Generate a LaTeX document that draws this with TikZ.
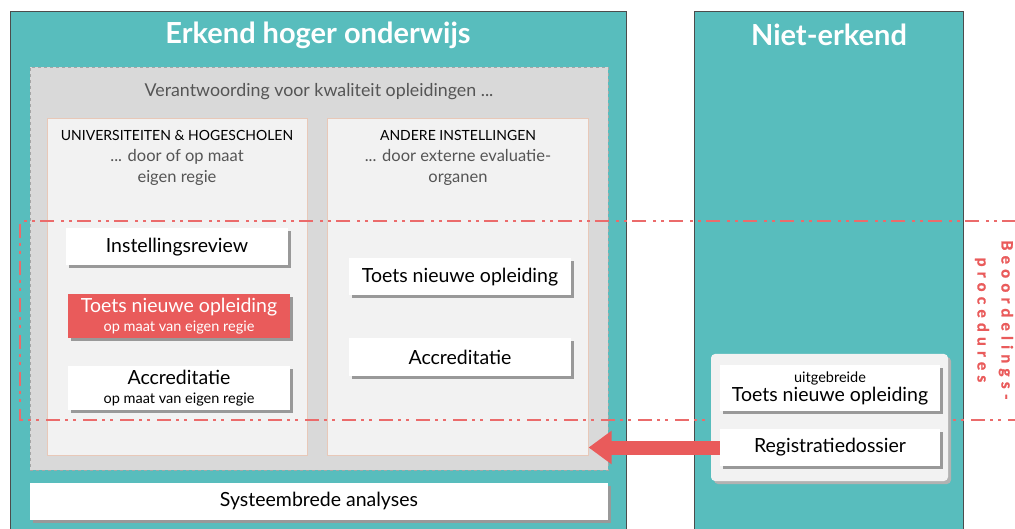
\documentclass[tikz,border=0pt]{standalone}
\usepackage{fontspec}
\setmainfont{Lato}
\newfontfamily\spacedfont[LetterSpace=34, FakeBold=1.6]{Lato Bold}
\usetikzlibrary{shadows,arrows.meta}

\definecolor{tealbg}{RGB}{88,189,189}
\definecolor{kadergrijs}{RGB}{217,217,217}
\definecolor{vakgrijs}{RGB}{242,242,242}
\definecolor{vakrand}{RGB}{232,200,184}
\definecolor{rood}{RGB}{233,91,91}
\definecolor{tekstgrijs}{RGB}{85,85,85}

\newcommand{\kleintekst}{\fontsize{14.5}{16}\selectfont}

\tikzset{
  paneel/.style={draw=black!70, fill=tealbg, line width=0.6pt},
  titel/.style={text=white, font=\fontsize{29}{32}\selectfont\bfseries},
  vak/.style={draw=vakrand, fill=vakgrijs, line width=0.6pt},
  kaart/.style={fill=white, minimum width=222pt, minimum height=37pt, inner sep=0pt,
    align=center, font=\fontsize{19.5}{22}\selectfont,
    drop shadow={shadow xshift=3pt, shadow yshift=-3pt, fill=black!40, opacity=1}},
  kop/.style={font=\fontsize{14}{16}\selectfont, align=center},
  sub/.style={text=tekstgrijs, font=\fontsize{16.5}{21}\selectfont, align=center},
  streep/.style={draw=rood!90!white, line width=2.2pt,
    dash pattern=on 14pt off 5pt on 3pt off 5pt on 3pt off 7pt}
}

\begin{document}
\begin{tikzpicture}[x=1pt, y=-1pt]
  \useasboundingbox (0,0) rectangle (1015,529);

  % teal panelen
  \node[paneel, anchor=north west, minimum width=616pt, minimum height=530pt, inner sep=0pt] (erkend) at (10,11) {};
  \node[paneel, anchor=north west, minimum width=269pt, minimum height=530pt, inner sep=0pt] (nieterkend) at (694,11) {};
  \node[titel] (erkendtitel) at (318,35) {Erkend hoger onderwijs};
  \node[titel] (niettitel) at (829,35) {Niet-erkend};

  % grijs kader
  \node[draw=black!35, dashed, fill=kadergrijs, anchor=north west, minimum width=578pt, minimum height=403pt, inner sep=0pt] (kader) at (30,67) {};
  \node[text=tekstgrijs, font=\fontsize{17.8}{20}\selectfont] (verantw) at (319,92) {Verantwoording voor kwaliteit opleidingen ...};

  % twee vakken
  \node[vak, anchor=north west, minimum width=260pt, minimum height=337pt, inner sep=0pt] (uni) at (47,118) {};
  \node[vak, anchor=north west, minimum width=261pt, minimum height=337pt, inner sep=0pt] (andere) at (327,118) {};
  \node[kop] (unikop) at (177,135) {UNIVERSITEITEN \& HOGESCHOLEN};
  \node[sub] (unisub) at (177,167) {... door of op maat\\eigen regie};
  \node[kop] (anderekop) at (458,135) {ANDERE INSTELLINGEN};
  \node[sub] (anderesub) at (458,167) {... door externe evaluatie-\\organen};

  % streep-stip kader
  \draw[streep] (1016,221) -- (20,221) -- (20,420) -- (1016,420);
  \node[rotate=-90, text=rood, align=center, font=\spacedfont\fontsize{15.5}{24}\selectfont] (beoordeling) at (994,320) {Beoordelings-\\procedures};

  % kaarten links
  \node[kaart] (review) at (177,247) {Instellingsreview};
  \node[kaart, fill=rood, text=white, minimum height=44pt] (toetsuni) at (179,316) {Toets nieuwe opleiding\\[-3pt]{\kleintekst op maat van eigen regie}};
  \node[kaart, minimum height=44pt] (accruni) at (179,388) {Accreditatie\\[-3pt]{\kleintekst op maat van eigen regie}};

  % kaarten rechts
  \node[kaart] (toetsandere) at (460,277) {Toets nieuwe opleiding};
  \node[kaart] (accrandere) at (460,357) {Accreditatie};

  % onderbalk
  \node[kaart, minimum width=578pt] (systeem) at (319,501) {Systeembrede analyses};

  % niet-erkend groep
  \node[fill=vakgrijs, rounded corners=4pt, minimum width=237pt, minimum height=127pt,
    drop shadow={shadow xshift=3pt, shadow yshift=-3pt, fill=black!30, opacity=1}] (groep) at (829.5,417.5) {};
  \node[kaart, minimum width=220pt, minimum height=46pt] (toetsuitgebreid) at (830,388) {{\kleintekst uitgebreide}\\[-3pt]Toets nieuwe opleiding};
  \node[kaart, minimum width=220pt] (registratie) at (830,447.5) {Registratiedossier};

  % pijl
  \draw[rood, line width=14pt, -{Triangle[length=23pt, width=32pt]}] (registratie.west) -- (andere.east |- registratie.west);
\end{tikzpicture}
\end{document}
